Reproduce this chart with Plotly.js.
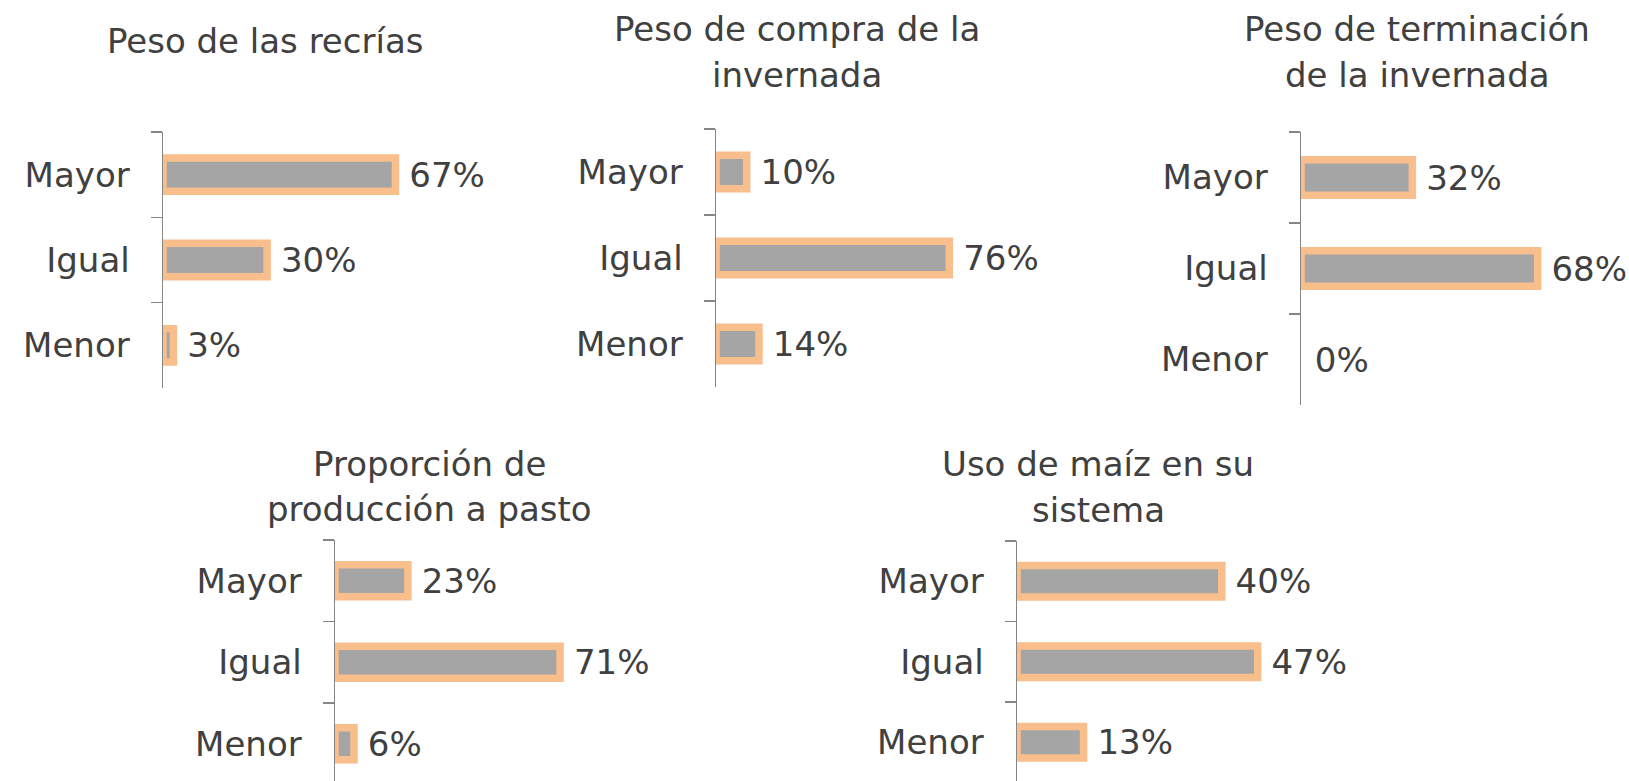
<!DOCTYPE html>
<html>
<head>
<meta charset="utf-8">
<script src="https://cdn.plot.ly/plotly-3.0.1.min.js"></script>
<style>
  html, body { margin: 0; padding: 0; background: #ffffff; }
  #chart { width: 1629px; height: 781px; }
</style>
</head>
<body>
<div id="chart"></div>
<script>
// ---------- data ----------
const categories = ['Mayor', 'Igual', 'Menor'];

const pesoRecrias      = [67, 30, 3];
const pesoCompra       = [10, 76, 14];
const pesoTerminacion  = [32, 68, 0];
const proporcionPasto  = [23, 71, 6];
const usoMaiz          = [40, 47, 13];

const chartTitles = [
  'Peso de las recrías',
  'Peso de compra de la<br>invernada',
  'Peso de terminación<br>de la invernada',
  'Proporción de<br>producción a pasto',
  'Uso de maíz en su<br>sistema'
];
const seriesList = [pesoRecrias, pesoCompra, pesoTerminacion, proporcionPasto, usoMaiz];

// ---------- layout geometry (pixels) ----------
const W = 1629, H = 781;
const px = x => x / W;
const py = y => 1 - y / H;

const geom = [
  {ax: 163,  scale: 3.47, top: 132, bottom: 388, tx: 265,  ty: [41]},
  {ax: 716,  scale: 3.07, top: 129, bottom: 387, tx: 797,  ty: [29, 75]},
  {ax: 1301, scale: 3.48, top: 132, bottom: 405, tx: 1417, ty: [29, 75]},
  {ax: 335,  scale: 3.17, top: 540, step: 81.5,  tx: 429,  ty: [464, 509]},
  {ax: 1017, scale: 5.12, top: 541, step: 80.5,  tx: 1098, ty: [464, 510]}
];

const FONT = 'DejaVu Sans, sans-serif';
const TXT = '#404040';
const AXC = '#868686';
const FS = 34;

const data = [];
const layout = {
  width: W, height: H,
  margin: {l: 0, r: 0, t: 0, b: 0},
  paper_bgcolor: '#ffffff',
  plot_bgcolor: 'rgba(0,0,0,0)',
  showlegend: false,
  annotations: []
};

geom.forEach((g, i) => {
  const n = i + 1;
  const xs = 'x' + (n === 1 ? '' : n);
  const ys = 'y' + (n === 1 ? '' : n);
  const xk = 'xaxis' + (n === 1 ? '' : n);
  const yk = 'yaxis' + (n === 1 ? '' : n);
  const vals = seriesList[i];

  data.push({
    type: 'bar',
    orientation: 'h',
    x: vals,
    y: categories,
    xaxis: xs, yaxis: ys,
    width: 0.39,
    marker: {
      color: '#A5A5A5',
      line: {color: '#F8BE8C', width: vals.map(v => v > 0 ? 7.5 : 0)}
    },
    text: vals.map(v => '\u00A0' + v + '%'),
    textposition: 'outside',
    constraintext: 'none',
    textfont: {family: FONT, size: FS, color: TXT},
    cliponaxis: true,
    hoverinfo: 'skip'
  });

  const R = Math.min(115, (W - g.ax) / g.scale);
  layout[xk] = {
    domain: [px(g.ax), Math.min(1, px(g.ax + R * g.scale))],
    range: [0, R],
    anchor: ys,
    showline: false, showgrid: false, zeroline: false,
    showticklabels: false, ticks: '', fixedrange: true
  };

  let dom, rng;
  if (g.bottom !== undefined) {
    dom = [py(g.bottom), py(g.top)];
    rng = [2.5, -0.5];
  } else {
    const span = (H - g.top) / g.step;
    dom = [0, py(g.top)];
    rng = [-0.5 + span, -0.5];
  }
  layout[yk] = {
    domain: dom,
    type: 'category',
    categoryorder: 'array',
    categoryarray: categories,
    range: rng,
    anchor: xs,
    showline: true, linecolor: AXC, linewidth: 1.5,
    ticks: 'outside', tickson: 'boundaries', ticklen: 11, tickwidth: 1.5, tickcolor: AXC,
    ticklabelstandoff: 25,
    showgrid: false, zeroline: false,
    tickfont: {family: FONT, size: FS, color: TXT},
    fixedrange: true
  };

  chartTitles[i].split('<br>').forEach((line, k) => {
    layout.annotations.push({
      text: line,
      xref: 'paper', yref: 'paper',
      x: px(g.tx), y: py(g.ty[k]),
      xanchor: 'center', yanchor: 'middle',
      showarrow: false,
      font: {family: FONT, size: FS, color: TXT}
    });
  });
});

Plotly.newPlot('chart', data, layout, {displayModeBar: false, staticPlot: true});
</script>
</body>
</html>
